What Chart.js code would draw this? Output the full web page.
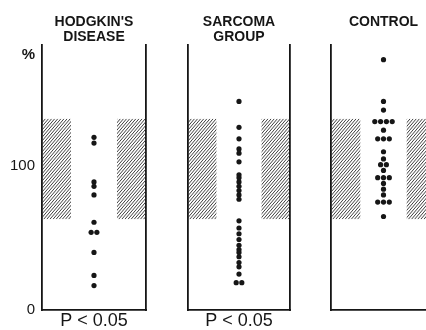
<!DOCTYPE html>
<html>
<head>
<meta charset="utf-8">
<script src="https://cdn.jsdelivr.net/npm/chart.js@4.4.1/dist/chart.umd.min.js"></script>
<style>
  html, body { margin: 0; padding: 0; background: #fff; }
  #wrap { position: relative; width: 426px; height: 330px; overflow: hidden; background: #fff; }
  #wrap canvas { position: absolute; top: 0; }
</style>
</head>
<body>
<div id="wrap">
  <canvas id="panelHodgkin" width="152" height="330" style="left:0px"></canvas>
  <canvas id="panelSarcoma" width="122" height="330" style="left:178px"></canvas>
  <canvas id="panelControl" width="125" height="330" style="left:321px"></canvas>
</div>
<script>
// Group names (drawn as two-line panel headings)
const hodgkinTitle = ["HODGKIN'S", "DISEASE"];
const sarcomaTitle = ["SARCOMA", "GROUP"];
const controlTitle = ["CONTROL"];

// Individual values, % of normal
const hodgkinValues = [120, 116, 89, 86, 80, 61, 54, 54, 40, 24, 17];
const sarcomaValues = [145, 127, 119, 112, 109, 103, 94, 92, 89, 86, 83, 80, 77,
                       62, 57, 53, 49, 45, 42, 40, 37, 33, 30, 25, 19, 19];
const controlValues = [174, 145, 139, 131, 131, 131, 131, 125, 119, 119, 119,
                       110, 105, 101, 101, 97, 92, 92, 92, 88, 84, 80, 75, 75, 75, 65];

// Significance notes under each panel
const hodgkinNote = 'P < 0.05';
const sarcomaNote = 'P < 0.05';

// Value axis
const yTickValues = [0, 100];
const yMax = 184;

// Normal range shown as hatched bands
const normalLow = 63;
const normalHigh = 133;

// ---- drawing setup ----
Chart.defaults.font.family = "'Liberation Sans', Arial, sans-serif";
Chart.defaults.color = '#111';

const INK = '#161616';
const X_HALF = 9.5;        // half-width of a panel in dot steps
const DOT_STEP = 1.05;     // horizontal step between tied dots
const BAND_INNER = 4.2;    // inner edge of each hatched band

// spread tied values side by side around the column centre
function swarm(values) {
  const counts = {}, seen = {};
  values.forEach(v => { counts[v] = (counts[v] || 0) + 1; });
  return values.map(v => {
    const n = counts[v];
    const i = seen[v] || 0;
    seen[v] = i + 1;
    return { x: (i - (n - 1) / 2) * DOT_STEP, y: v };
  });
}

// diagonal hatching over the normal range, at both sides of a panel
const hatchBands = {
  id: 'hatchBands',
  beforeDatasetsDraw(chart) {
    const { ctx, scales: { x, y } } = chart;
    const top = y.getPixelForValue(normalHigh);
    const bottom = y.getPixelForValue(normalLow);
    const h = bottom - top;
    [[-X_HALF, -BAND_INNER], [BAND_INNER, X_HALF]].forEach(([a, b]) => {
      const l = x.getPixelForValue(a);
      const r = x.getPixelForValue(b);
      ctx.save();
      ctx.beginPath();
      ctx.rect(l, top, r - l, h);
      ctx.clip();
      ctx.strokeStyle = '#2a2a2a';
      ctx.lineWidth = 0.9;
      ctx.beginPath();
      for (let s = l - h; s < r + 4; s += 3.1) {
        ctx.moveTo(s, bottom);
        ctx.lineTo(s + h * 0.85, top);
      }
      ctx.stroke();
      ctx.restore();
    });
  }
};

// unit sign at the top of the value axis
const unitMark = {
  id: 'unitMark',
  afterDraw(chart) {
    const y = chart.scales.y;
    if (!y.options.ticks.display) return;
    const ctx = chart.ctx;
    ctx.save();
    ctx.fillStyle = INK;
    ctx.font = "bold 15px 'Liberation Sans', Arial, sans-serif";
    ctx.textAlign = 'right';
    ctx.textBaseline = 'middle';
    ctx.fillText('%', y.right - 7, y.top + 10);
    ctx.restore();
  }
};

function makePanel(canvasId, titleLines, values, note, opts) {
  const showAxis = !!opts.showAxis;
  return new Chart(document.getElementById(canvasId), {
    type: 'scatter',
    data: {
      datasets: [{
        data: swarm(values),
        pointRadius: 2.6,
        pointHoverRadius: 2.6,
        pointBackgroundColor: INK,
        pointBorderWidth: 0
      }]
    },
    options: {
      responsive: false,
      animation: false,
      events: [],
      layout: { padding: { left: opts.padLeft, right: opts.padRight, top: 0, bottom: 0 } },
      plugins: {
        legend: { display: false },
        tooltip: { enabled: false },
        title: {
          display: true,
          text: titleLines,
          fullSize: false,
          color: INK,
          font: { size: 14, weight: 'bold', lineHeight: 1.1 },
          padding: { top: 14.5, bottom: titleLines.length === 1 ? 15.4 : 0 }
        }
      },
      scales: {
        x: {
          type: 'linear',
          min: -X_HALF,
          max: X_HALF,
          grid: { display: false, drawTicks: false },
          ticks: { display: false },
          border: { display: true, color: INK, width: 1.8 },
          title: {
            display: !!note,
            text: note || '',
            color: INK,
            font: { size: 18, lineHeight: 1 },
            padding: { top: 0, bottom: 0 }
          },
          afterFit(scale) { scale.height = 20; }
        },
        y: {
          type: 'linear',
          position: 'left',
          min: 0,
          max: yMax,
          afterBuildTicks(scale) { scale.ticks = yTickValues.map(v => ({ value: v })); },
          grid: { display: false, drawTicks: false },
          ticks: {
            display: showAxis,
            padding: 7,
            color: INK,
            font: { size: 15 },
            callback: v => String(v)
          },
          border: { display: true, color: INK, width: 1.8 },
          afterFit(scale) { scale.width = showAxis ? 42 : 0; }
        },
        yRight: {
          type: 'linear',
          axis: 'y',
          position: 'right',
          grid: { display: false, drawTicks: false },
          ticks: { display: false },
          border: { display: true, color: INK, width: 1.8 },
          afterFit(scale) { scale.width = 0; }
        }
      }
    },
    plugins: [hatchBands, unitMark]
  });
}

makePanel('panelHodgkin', hodgkinTitle, hodgkinValues, hodgkinNote, { showAxis: true, padLeft: 0, padRight: 6 });
makePanel('panelSarcoma', sarcomaTitle, sarcomaValues, sarcomaNote, { padLeft: 10, padRight: 10 });
makePanel('panelControl', controlTitle, controlValues, '', { padLeft: 10, padRight: 10 });
</script>
</body>
</html>
